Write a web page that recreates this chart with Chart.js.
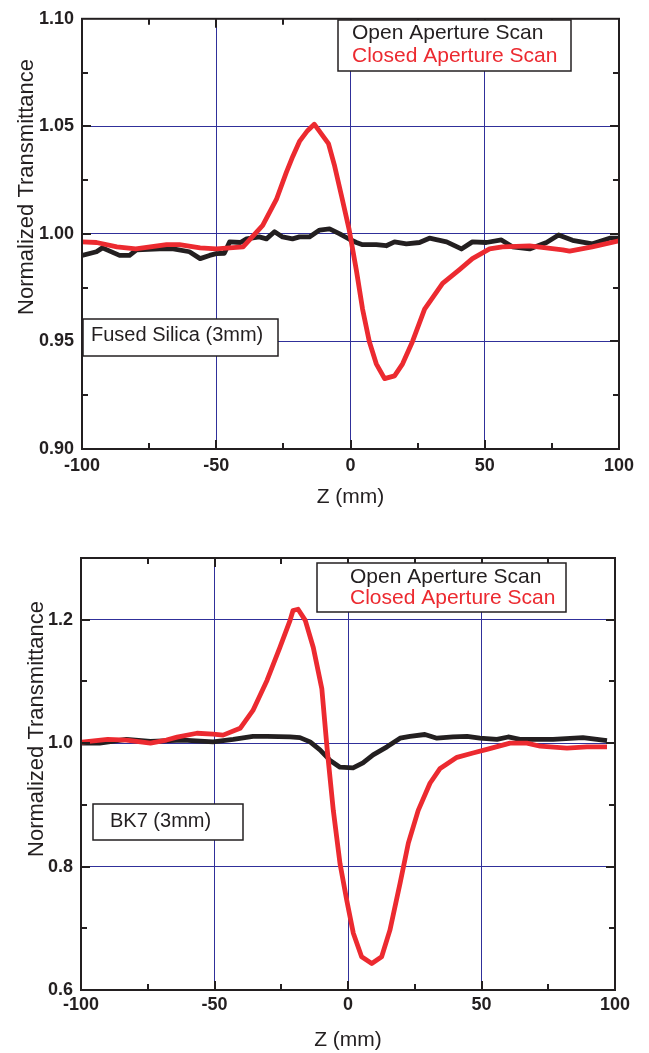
<!DOCTYPE html>
<html>
<head>
<meta charset="utf-8">
<title>Z-scan</title>
<script src="https://cdn.jsdelivr.net/npm/chart.js@4.4.1/dist/chart.umd.min.js"></script>
<style>
  body { margin: 0; background: #fff; }
  canvas { position: absolute; left: 0; }
  #topChart { top: 0; }
  #botChart { top: 525px; }
</style>
</head>
<body>
<canvas id="topChart" width="649" height="525"></canvas>
<canvas id="botChart" width="649" height="528"></canvas>
<script>
// Fused silica (3mm) - open aperture
const zOpenTop = [-100, -94.6, -92.4, -86, -82.3, -79.7, -71, -66, -60, -56, -52.5, -50, -47, -45, -41, -38.7, -34, -31.3, -28.3, -25.3, -21.6, -19, -15.3, -11.5, -7.8, -4, -0.4, 2.2, 4.5, 9.6, 13.3, 16.4, 20.8, 25.7, 29.4, 35.8, 41.3, 45.4, 50.6, 56.2, 60.3, 66.7, 73, 77.5, 82.7, 90.1, 96.5, 100];
const tOpenTop = [0.990, 0.9917, 0.9935, 0.990, 0.990, 0.9926, 0.993, 0.993, 0.9917, 0.9885, 0.990, 0.9908, 0.991, 0.9963, 0.996, 0.9977, 0.9986, 0.9977, 1.001, 0.9986, 0.9977, 0.9986, 0.9986, 1.0018, 1.0023, 1.000, 0.9975, 0.996, 0.995, 0.995, 0.9945, 0.9963, 0.9954, 0.996, 0.998, 0.9963, 0.993, 0.9963, 0.996, 0.9972, 0.994, 0.993, 0.996, 0.9995, 0.997, 0.9954, 0.998, 0.998];

// Fused silica (3mm) - closed aperture
const zClosedTop = [-100, -94.6, -87, -80, -68.5, -63.7, -56, -50, -40, -32.7, -27.6, -23.9, -21.5, -19, -16, -13.5, -8.2, -6, -3.4, -0.5, 2.2, 4.5, 7, 9.6, 12.7, 16.4, 19.4, 23.1, 27.6, 34.3, 40.6, 45.4, 51.8, 56.6, 66.7, 79, 81.6, 90, 100];
const tClosedTop = [0.9963, 0.996, 0.994, 0.993, 0.995, 0.995, 0.9935, 0.993, 0.994, 1.004, 1.016, 1.0286, 1.036, 1.043, 1.048, 1.051, 1.042, 1.032, 1.018, 1.002, 0.983, 0.965, 0.950, 0.9396, 0.9327, 0.934, 0.9396, 0.950, 0.965, 0.977, 0.9834, 0.9885, 0.993, 0.994, 0.9944, 0.9926, 0.992, 0.994, 0.9968];

// BK7 (3mm) - open aperture
const zOpenBot = [-99.6, -93, -83, -74, -61.8, -50.5, -43, -35.6, -30.3, -21.7, -18, -14.2, -10.5, -6.7, -3, 1.9, 5.6, 9.4, 14.6, 19.5, 23.2, 28.8, 33.3, 39.3, 44.6, 49.4, 55.8, 60, 64.4, 76.8, 88, 97];
const tOpenBot = [1.000, 1.000, 1.006, 1.003, 1.005, 1.002, 1.006, 1.011, 1.011, 1.010, 1.009, 1.002, 0.989, 0.972, 0.961, 0.960, 0.968, 0.981, 0.994, 1.008, 1.011, 1.014, 1.008, 1.010, 1.011, 1.008, 1.006, 1.010, 1.006, 1.006, 1.009, 1.004];

// BK7 (3mm) - closed aperture
const zClosedBot = [-99.6, -90, -83, -74, -68, -64, -56.6, -50.5, -46.8, -40.4, -35.6, -30.3, -25.5, -21.7, -20.6, -18.7, -16, -13, -9.8, -7.8, -5.5, -3, -0.5, 2, 5.1, 8.9, 12.6, 15.7, 19.5, 22.6, 26.3, 30.7, 34.5, 40.8, 46.8, 52, 60.7, 67, 72, 82, 89.5, 97];
const tClosedBot = [1.0016, 1.006, 1.005, 1.000, 1.005, 1.0097, 1.016, 1.0146, 1.013, 1.024, 1.053, 1.102, 1.155, 1.199, 1.215, 1.217, 1.199, 1.155, 1.088, 0.990, 0.891, 0.805, 0.746, 0.692, 0.654, 0.643, 0.654, 0.697, 0.773, 0.838, 0.891, 0.935, 0.959, 0.977, 0.984, 0.990, 1.000, 1.000, 0.995, 0.992, 0.994, 0.994];

const seriesLabels = ['Open Aperture Scan', 'Closed Aperture Scan'];
const xTitle = 'Z (mm)';
const yTitle = 'Normalized Transmittance';

const INK = '#231f20';
const RED = '#ec2a30';
const GRID = '#30309a';
const FONT = '"Liberation Sans", Arial, sans-serif';

Chart.defaults.font.family = FONT;
Chart.defaults.color = INK;

function isMajor(v, step) {
    return Math.abs(v / step - Math.round(v / step)) < 1e-6;
}

function toPoints(xs, ys) {
    return xs.map((x, i) => ({ x: x, y: ys[i] }));
}

// inside tick marks, frame, legend box, sample box, y title
const zscanPlugin = {
    id: 'zscan',
    afterDatasetsDraw(chart, args, o) {
        const { ctx, chartArea: a, scales: { x, y } } = chart;
        ctx.save();
        ctx.strokeStyle = INK;
        ctx.lineWidth = 2;
        ctx.beginPath();
        x.ticks.forEach(t => {
            if (t.value <= x.min || t.value >= x.max) return;
            const px = Math.round(x.getPixelForValue(t.value));
            const len = isMajor(t.value, o.xMajor) ? 9 : 6;
            ctx.moveTo(px, a.bottom); ctx.lineTo(px, a.bottom - len);
            ctx.moveTo(px, a.top); ctx.lineTo(px, a.top + len);
        });
        y.ticks.forEach(t => {
            if (t.value <= y.min || t.value >= y.max) return;
            const py = Math.round(y.getPixelForValue(t.value));
            const len = isMajor(t.value, o.yMajor) ? 9 : 6;
            ctx.moveTo(a.left, py); ctx.lineTo(a.left + len, py);
            ctx.moveTo(a.right, py); ctx.lineTo(a.right - len, py);
        });
        ctx.stroke();
        ctx.strokeRect(a.left, a.top, a.right - a.left, a.bottom - a.top);

        // legend
        const L = o.legend;
        ctx.fillStyle = '#fff';
        ctx.fillRect(L.x, L.y, L.w, L.h);
        ctx.lineWidth = 1.5;
        ctx.strokeRect(L.x, L.y, L.w, L.h);
        ctx.font = '21px ' + FONT;
        ctx.textAlign = 'left';
        ctx.textBaseline = 'alphabetic';
        chart.data.datasets.forEach((ds, i) => {
            ctx.fillStyle = ds.borderColor;
            ctx.fillText(ds.label, L.tx, L.ty[i]);
        });

        // sample label
        const N = o.note;
        ctx.fillStyle = '#fff';
        ctx.fillRect(N.x, N.y, N.w, N.h);
        ctx.strokeRect(N.x, N.y, N.w, N.h);
        ctx.fillStyle = INK;
        ctx.font = '20px ' + FONT;
        ctx.fillText(N.text, N.tx, N.ty);

        // y axis title
        ctx.translate(o.yTitle.x, o.yTitle.y);
        ctx.rotate(-Math.PI / 2);
        ctx.textAlign = 'center';
        ctx.font = '22px ' + FONT;
        ctx.fillText(yTitle, 0, 0);
        ctx.restore();
    }
};

function makeChart(id, cfg) {
    return new Chart(document.getElementById(id), {
        type: 'line',
        data: {
            datasets: [
                { label: seriesLabels[0], data: cfg.open, borderColor: INK, order: 1 },
                { label: seriesLabels[1], data: cfg.closed, borderColor: RED, order: 0 }
            ]
        },
        options: {
            responsive: false,
            animation: false,
            devicePixelRatio: 1,
            layout: { padding: cfg.padding },
            elements: {
                line: { borderWidth: 4.8, tension: 0, borderJoinStyle: 'round', borderCapStyle: 'butt' },
                point: { radius: 0 }
            },
            plugins: {
                legend: { display: false },
                tooltip: { enabled: false },
                zscan: cfg.deco
            },
            scales: {
                x: {
                    type: 'linear',
                    min: -100, max: 100,
                    afterFit: s => { s.height = cfg.xHeight; },
                    grid: {
                        drawTicks: false,
                        color: c => (isMajor(c.tick.value, 50) ? GRID : 'transparent'),
                        lineWidth: 1
                    },
                    border: { display: false },
                    ticks: {
                        stepSize: 25,
                        autoSkip: false,
                        maxRotation: 0,
                        padding: cfg.xPad,
                        color: INK,
                        font: { size: 18, weight: 'bold' },
                        callback: v => (isMajor(v, 50) ? String(Math.round(v)) : '')
                    },
                    title: {
                        display: true,
                        text: xTitle,
                        color: INK,
                        font: { size: 21 },
                        padding: { top: 0, bottom: cfg.titlePad }
                    }
                },
                y: {
                    min: cfg.yMin, max: cfg.yMax,
                    afterFit: s => { s.width = cfg.yWidth; },
                    grid: {
                        drawTicks: false,
                        color: c => (isMajor(c.tick.value, cfg.yMajor) ? GRID : 'transparent'),
                        lineWidth: 1
                    },
                    border: { display: false },
                    ticks: {
                        stepSize: cfg.yStep,
                        autoSkip: false,
                        padding: 8,
                        color: INK,
                        font: { size: 18, weight: 'bold' },
                        callback: v => (isMajor(v, cfg.yMajor) ? v.toFixed(cfg.digits) : '')
                    }
                }
            }
        },
        plugins: [zscanPlugin]
    });
}

makeChart('topChart', {
    open: toPoints(zOpenTop, tOpenTop),
    closed: toPoints(zClosedTop, tClosedTop),
    padding: { top: 15, right: 30, left: 0, bottom: 0 },
    xHeight: 76, yWidth: 82, xPad: 6, titlePad: 15,
    yMin: 0.9, yMax: 1.1, yStep: 0.025, yMajor: 0.05, digits: 2,
    deco: {
        xMajor: 50, yMajor: 0.05,
        legend: { x: 338, y: 20, w: 233, h: 51, tx: 352, ty: [39, 62] },
        note: { x: 83, y: 319, w: 195, h: 37, tx: 91, ty: 341, text: 'Fused Silica (3mm)' },
        yTitle: { x: 33, y: 187 }
    }
});

makeChart('botChart', {
    open: toPoints(zOpenBot, tOpenBot),
    closed: toPoints(zClosedBot, tClosedBot),
    padding: { top: 33, right: 34, left: 0, bottom: 0 },
    xHeight: 63, yWidth: 81, xPad: 4, titlePad: 0,
    yMin: 0.6, yMax: 1.3, yStep: 0.1, yMajor: 0.2, digits: 1,
    deco: {
        xMajor: 50, yMajor: 0.2,
        legend: { x: 317, y: 38, w: 249, h: 49, tx: 350, ty: [58, 79] },
        note: { x: 93, y: 279, w: 150, h: 36, tx: 110, ty: 302, text: 'BK7 (3mm)' },
        yTitle: { x: 43, y: 204 }
    }
});
</script>
</body>
</html>
